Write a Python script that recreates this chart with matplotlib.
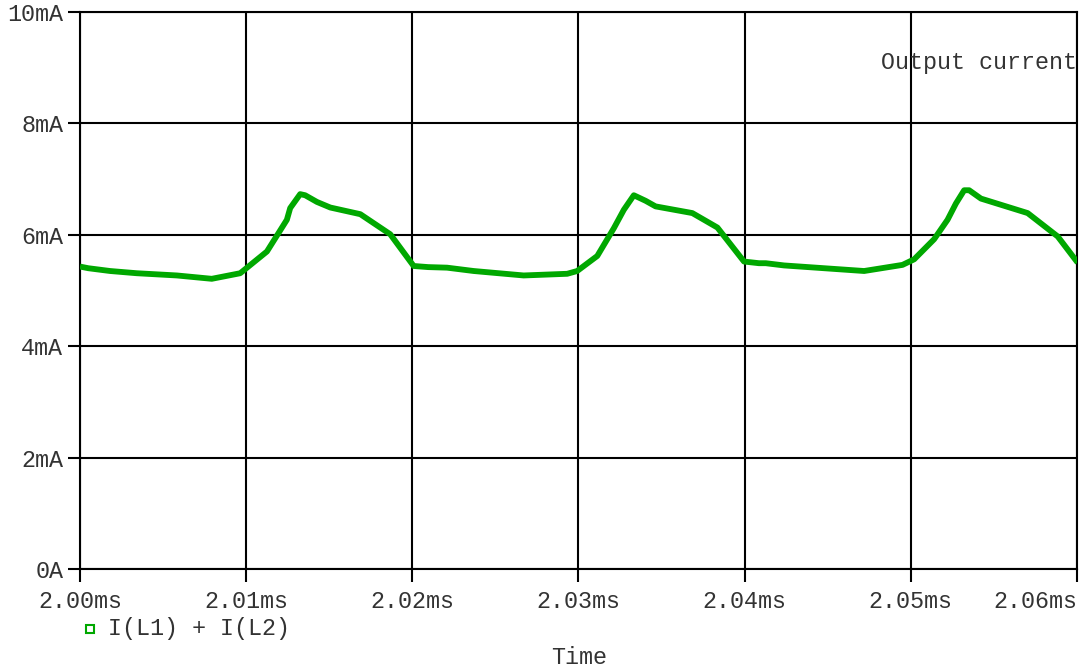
import numpy as np
import matplotlib
matplotlib.use("Agg")
import matplotlib.pyplot as plt
from matplotlib.lines import Line2D

# Simulated inductor current sum, time in ms and current in mA
time_ms = [2.00000, 2.00050, 2.00181, 2.00342, 2.00583, 2.00793, 2.00964,
           2.01125, 2.01245, 2.01265, 2.01325, 2.01355, 2.01426, 2.01506,
           2.01687, 2.01867, 2.02008, 2.02096, 2.02209, 2.02369, 2.02670,
           2.02932, 2.02992, 2.03113, 2.03213, 2.03273, 2.03333, 2.03404,
           2.03464, 2.03685, 2.03836, 2.03996, 2.04086, 2.04127, 2.04237,
           2.04719, 2.04950, 2.05020, 2.05140, 2.05221, 2.05271, 2.05321,
           2.05351, 2.05422, 2.05703, 2.05884, 2.06004]
current_ma = [5.43, 5.40, 5.35, 5.31, 5.27, 5.21, 5.31,
              5.70, 6.27, 6.48, 6.73, 6.71, 6.59, 6.49,
              6.37, 6.01, 5.44, 5.42, 5.41, 5.35, 5.27,
              5.30, 5.35, 5.62, 6.12, 6.45, 6.71, 6.61,
              6.51, 6.39, 6.13, 5.52, 5.49, 5.49, 5.45,
              5.35, 5.46, 5.56, 5.92, 6.27, 6.56, 6.80,
              6.80, 6.65, 6.39, 5.97, 5.50]

x_ticks = [2.00, 2.01, 2.02, 2.03, 2.04, 2.05, 2.06]
x_labels = ["2.00ms", "2.01ms", "2.02ms", "2.03ms", "2.04ms", "2.05ms", "2.06ms"]
y_ticks = [0, 2, 4, 6, 8, 10]
y_labels = ["0A", "2mA", "4mA", "6mA", "8mA", "10mA"]

trace_name = "I(L1) + I(L2)"
title = "Output current"
green = "#00a800"
mono = ["Liberation Mono", "DejaVu Sans Mono"]
fs = 16.8
txt = "#333333"

fig = plt.figure(figsize=(10.82, 6.72), dpi=100)
ax = fig.add_axes([80 / 1082, 103 / 672, 997 / 1082, 557 / 672])

ax.plot(time_ms, current_ma, color=green, lw=4.2, solid_joinstyle="round",
        solid_capstyle="butt", zorder=3)

ax.set_xlim(2.00, 2.06)
ax.set_ylim(0, 10)
ax.set_xticks(x_ticks)
ax.set_xticklabels(x_labels, family=mono, fontsize=fs, color=txt)
ax.set_yticks(y_ticks)
ax.set_yticklabels(y_labels, family=mono, fontsize=fs, color=txt)
ax.tick_params(axis="both", direction="out", length=9, width=1.5, color="black")
ax.tick_params(axis="y", pad=3)
ax.tick_params(axis="x", pad=6)
ax.get_xticklabels()[-1].set_horizontalalignment("right")

ax.grid(True, color="black", lw=1.5)
ax.set_axisbelow(True)
for side in ["left", "bottom", "right", "top"]:
    ax.spines[side].set_linewidth(1.5)
    ax.spines[side].set_color("black")

ax.text(1.0, 0.91, title, transform=ax.transAxes, ha="right", va="center",
        family=mono, fontsize=fs, color=txt)

# legend entry and axis title under the plot
fig.add_artist(Line2D([90 / 1082], [1 - 629 / 672], marker="s", markersize=6,
                      markerfacecolor="white", markeredgecolor=green,
                      markeredgewidth=1.5, linestyle="none"))
fig.text(108 / 1082, 1 - 629 / 672, trace_name, ha="left", va="center",
         family=mono, fontsize=fs, color=txt)
fig.text(579 / 1082, 1 - 657 / 672, "Time", ha="center", va="center",
         family=mono, fontsize=fs, color=txt)

fig.savefig("out.png", dpi=100)
